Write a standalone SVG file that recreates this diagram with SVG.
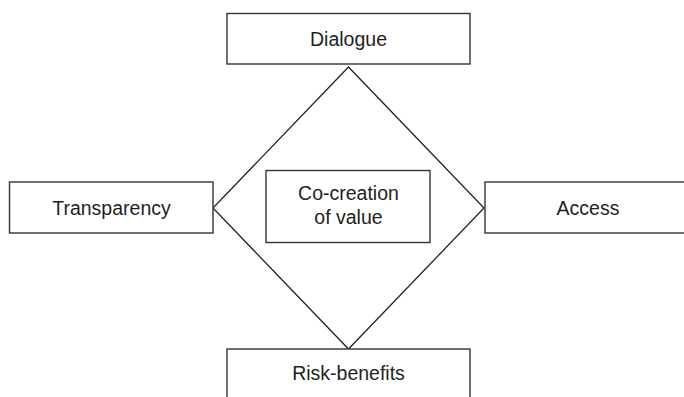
<svg xmlns="http://www.w3.org/2000/svg" width="684" height="397" viewBox="0 0 684 397">
<style>
.box{fill:#fff;stroke:#333;stroke-width:1.4}
.ln{fill:none;stroke:#222;stroke-width:1.3}
text{font-family:"Liberation Sans",Arial,sans-serif;font-size:19.5px;fill:#231f20;text-anchor:middle}
</style>
<rect width="684" height="397" fill="#fff"/>
<g id="connectors">
<polygon class="ln" points="348.5,67 484,208 348.5,349 213,208"/>
</g>
<g id="dialogue"><rect class="box" x="227" y="13.5" width="243" height="50.5"/><text x="348.5" y="45.5">Dialogue</text></g>
<g id="transparency"><rect class="box" x="9.5" y="182" width="203.5" height="51"/><text x="111.5" y="214.5">Transparency</text></g>
<g id="access"><rect class="box" x="485" y="182" width="210" height="51"/><text x="588" y="214.5">Access</text></g>
<g id="cocreation"><rect class="box" x="266" y="170.5" width="164" height="72"/><text x="348.5" y="199.5">Co-creation</text><text x="348.5" y="223.5">of value</text></g>
<g id="risk"><rect class="box" x="227" y="349" width="243" height="60"/><text x="348.5" y="380">Risk-benefits</text></g>
</svg>
